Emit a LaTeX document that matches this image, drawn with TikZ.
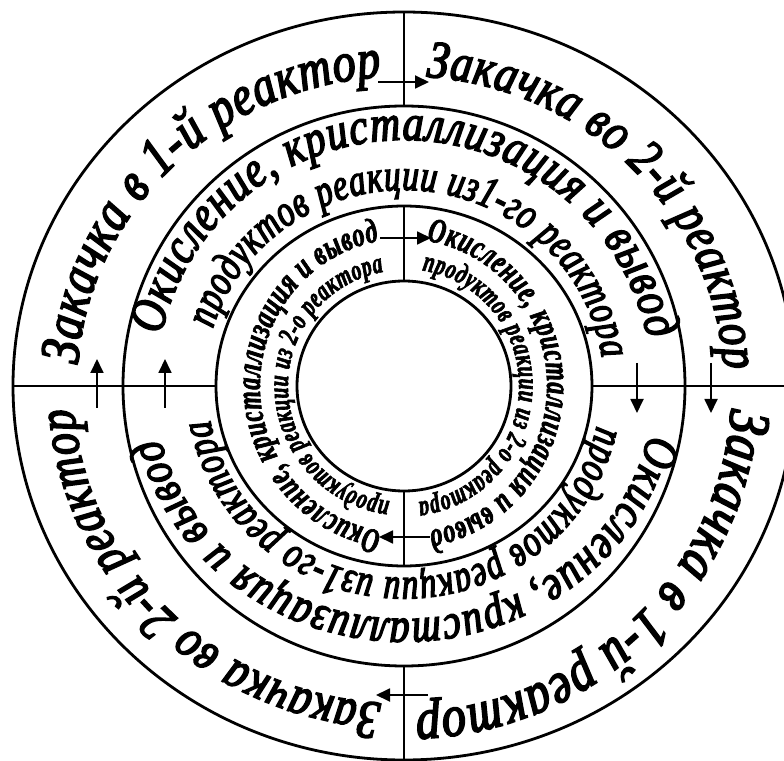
\documentclass[tikz,border=0pt]{standalone}
\usepackage{fontspec}
\newfontfamily\ringfont[FakeStretch=0.82,FakeBold=3]{Liberation Serif}
\newfontfamily\condfont[FakeStretch=0.74,FakeBold=3]{Liberation Serif}
\newfontfamily\innerfont[FakeStretch=0.68,FakeBold=2]{Liberation Serif}
\usetikzlibrary{decorations.text,arrows.meta}
\newcommand\fA{\ringfont\itshape}
\newcommand\fB{\condfont\itshape}
\newcommand\fC{\innerfont\bfseries\itshape}
% measure text width at 10pt (outside the picture)
\newcommand\measure[3]{\setbox0=\hbox{\fontsize{10}{12}\selectfont#2#3}%
  \expandafter\xdef\csname tw#1\endcsname{\the\wd0}}
% #1 key, #2 font cmds, #3 text, #4 start angle, #5 end angle, #6 x radius, #7 y radius, #8 fill factor
\newcommand\ringtext[8]{%
  \pgfmathsetmacro\arcfs{#8*abs((#5)-(#4))*pi/180*((#6)+(#7))/2*10/\csname tw#1\endcsname}%
  \path[decorate,decoration={text along path,text align={fit to path},
     text={|\fontsize{\arcfs}{\arcfs}\selectfont#2|#3}}]
     (#4:#6 and #7) arc[start angle=#4,end angle=#5,x radius=#6,y radius=#7];}
\begin{document}
\measure{Aone}{\fA}{Закачка в 1-й реактор}
\measure{Atwo}{\fA}{Закачка во 2-й реактор}
\measure{Bone}{\fA}{Окисление, кристаллизация и вывод}
\measure{Btwo}{\fB}{продуктов реакции из1-го реактора}
\measure{Cone}{\fC}{Окисление, кристаллизация и вывод}
\measure{Ctwo}{\fC}{продуктов реакции из 2-о реактора}
\begin{tikzpicture}[x=1pt,y=1pt,
  ring/.style={line width=2.8pt},
  divider/.style={line width=2.8pt},
  flow/.style={line width=1.8pt,-{Triangle[length=14pt,width=13pt]}}]
\clip (-404,-374) rectangle (380,386);
\fill[white] (-404,-374) rectangle (380,386);
\coordinate (O) at (0,0);
% rings
\draw[ring] (O) ellipse [x radius=391,y radius=374];
\draw[ring] (O) ellipse [x radius=281,y radius=280];
\draw[ring] (O) ellipse [x radius=188,y radius=180];
\draw[ring] (O) ellipse [x radius=107,y radius=105];
% dividers
\draw[divider] (0,280) -- (0,374);
\draw[divider] (0,105) -- (0,180);
\draw[divider] (0,-105) -- (0,-180);
\draw[divider] (0,-280) -- (0,-374);
\draw[divider] (-391,0) -- (-188,0);
\draw[divider] (188,0) -- (391,0);
% arrows
\coordinate (a1s) at (-26,304); \coordinate (a1e) at (25,304);
\coordinate (a2s) at (-24,148); \coordinate (a2e) at (27,148);
\coordinate (a3s) at (307,23);  \coordinate (a3e) at (307,-27);
\coordinate (a4s) at (233,23);  \coordinate (a4e) at (233,-27);
\coordinate (a5s) at (26,-151); \coordinate (a5e) at (-25,-151);
\coordinate (a6s) at (24,-309); \coordinate (a6e) at (-28,-309);
\coordinate (a7s) at (-307,-22); \coordinate (a7e) at (-307,27);
\coordinate (a8s) at (-239,-22); \coordinate (a8e) at (-239,27);
\foreach \i in {1,...,8} {\draw[flow] (a\i s) -- (a\i e);}
% ring A texts
\ringtext{Aone}{\fA}{Закачка в 1-й реактор}{176}{94}{327}{310}{0.95}
\ringtext{Atwo}{\fA}{Закачка во 2-й реактор}{86}{3}{320}{310}{0.95}
\ringtext{Aone}{\fA}{Закачка в 1-й реактор}{-4}{-88}{328}{326}{0.95}
\ringtext{Atwo}{\fA}{Закачка во 2-й реактор}{-94}{-176}{331}{318}{0.95}
% ring B texts
\ringtext{Bone}{\fA}{Окисление, кристаллизация и вывод}{168}{11}{248}{246}{0.95}
\ringtext{Btwo}{\fB}{продуктов реакции из1-го реактора}{163}{8}{200}{196}{0.95}
\ringtext{Bone}{\fA}{Окисление, кристаллизация и вывод}{-12}{-167}{250}{233}{0.95}
\ringtext{Btwo}{\fB}{продуктов реакции из1-го реактора}{-12}{-170}{197}{192}{0.95}
% ring C texts
\ringtext{Cone}{\fC}{Окисление, кристаллизация и вывод}{81}{-80}{143}{147}{0.95}
\ringtext{Ctwo}{\fC}{продуктов реакции из 2-о реактора}{81}{-83}{115}{117}{0.95}
\ringtext{Cone}{\fC}{Окисление, кристаллизация и вывод}{-99}{-260}{144}{147}{0.95}
\ringtext{Ctwo}{\fC}{продуктов реакции из 2-о реактора}{-97}{-260}{116}{116}{0.95}
\end{tikzpicture}
\end{document}
